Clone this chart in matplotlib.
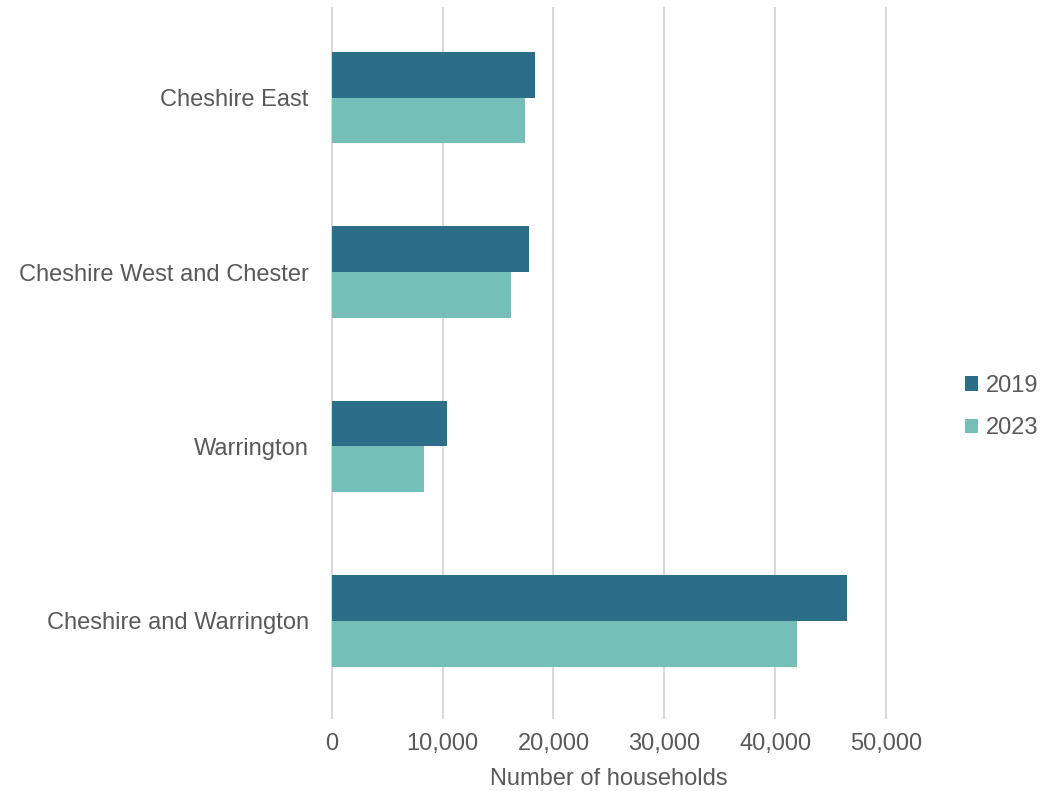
import matplotlib.pyplot as plt
import numpy as np

plt.rcParams['font.family'] = ['Liberation Sans', 'DejaVu Sans']

# Datos
areas = ['Cheshire East', 'Cheshire West and Chester', 'Warrington', 'Cheshire and Warrington']
hogares_2019 = [18300, 17820, 10360, 46480]
hogares_2023 = [17460, 16170, 8330, 41990]

color_2019 = '#2C6E87'
color_2023 = '#76BFB8'
gris = '#595959'

fig = plt.figure(figsize=(10.4, 7.91), dpi=100)
ax = fig.add_axes([0.319, 0.0923, 0.533, 0.898])

y = np.arange(len(areas))
h = 0.262
ax.barh(y - h/2, hogares_2019, height=h, color=color_2019, label='2019', zorder=3)
ax.barh(y + h/2, hogares_2023, height=h, color=color_2023, label='2023', zorder=3)

ax.set_xlim(0, 50000)
ax.set_ylim(3.557, -0.516)
ax.set_xticks(np.arange(0, 50001, 10000))
ax.set_xticklabels([f'{v:,}' for v in range(0, 50001, 10000)])
ax.set_yticks(y)
ax.set_yticklabels(areas)

ax.grid(True, axis='x', color='#D9D9D9', linewidth=1.5, zorder=0)
for g in ax.get_xgridlines():
    g.set_clip_on(False)
for s in ax.spines.values():
    s.set_visible(False)
ax.tick_params(axis='both', length=0, labelsize=17, labelcolor=gris)
ax.tick_params(axis='y', pad=16.5)
ax.tick_params(axis='x', pad=11)
ax.set_xlabel('Number of households', fontsize=17, color=gris, labelpad=9)

leg = fig.legend(loc='center left', bbox_to_anchor=(0.9075, 0.4855), frameon=False,
                 fontsize=17, handlelength=0.55, handleheight=0.55,
                 handletextpad=0.35, labelspacing=0.85)
for t in leg.get_texts():
    t.set_color(gris)

plt.savefig('out.png', dpi=100)
